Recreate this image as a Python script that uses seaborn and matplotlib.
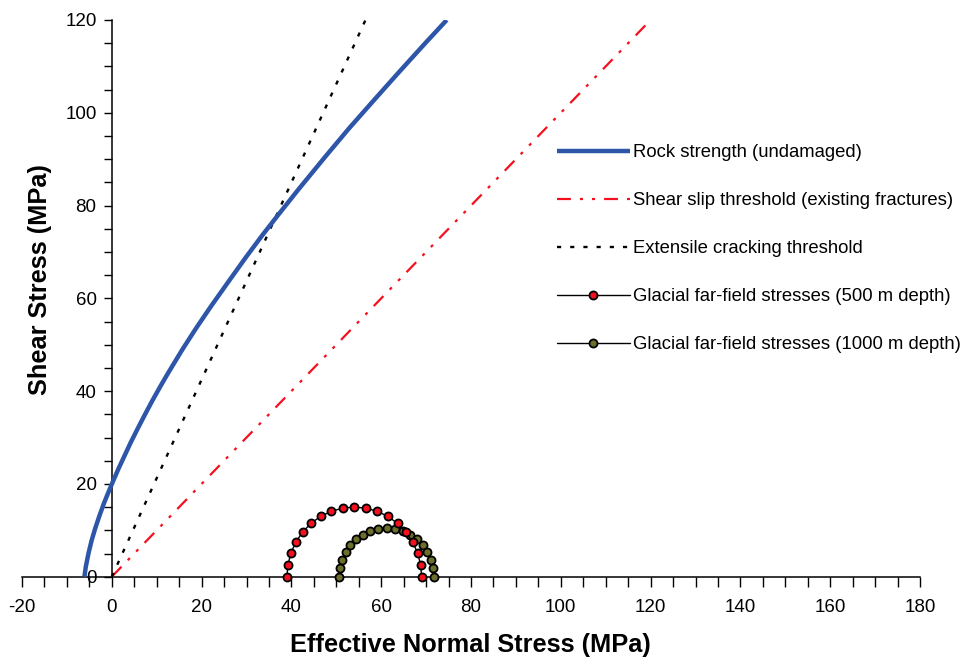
import numpy as np
import pandas as pd
import matplotlib
matplotlib.use("Agg")
import matplotlib.pyplot as plt
from matplotlib.ticker import MultipleLocator
import seaborn as sns

# --- data -------------------------------------------------------------
# Intact rock strength envelope (normal stress, shear stress), MPa
strength_sigma = [-6.1, -5.8, -5.2, -4.5, -3.7, -2.8, -1.8, -0.8, 0.2, 1.5,
                  2.8, 4.2, 5.7, 7.3, 9.0, 10.8, 12.6, 15.8, 18.8, 22.1,
                  26.2, 29.9, 33.6, 36.9, 41.5, 47.6, 52.8, 58.0, 63.9,
                  69.9, 74.6]
strength_tau = [0.0, 2.1, 5.0, 7.8, 10.4, 13.0, 15.7, 18.1, 20.4, 23.3,
                26.0, 28.9, 31.8, 34.8, 37.9, 41.0, 44.0, 49.1, 53.6, 58.3,
                63.9, 68.9, 73.7, 77.8, 83.4, 90.6, 96.6, 102.3, 108.7,
                115.1, 120.0]

# Shear slip threshold on existing fractures
slip_sigma = [0.0, 120.0]
slip_tau = [0.0, 120.0]

# Extensile cracking threshold
crack_sigma = [0.0, 56.5]
crack_tau = [0.0, 120.0]

# Principal effective stresses of the glacial far-field states, MPa
sigma3_500, sigma1_500 = 39.0, 69.0
sigma3_1000, sigma1_1000 = 50.7, 71.7
mohr_angles_deg = np.arange(0, 181, 10)

labels = [
    "Rock strength (undamaged)",
    "Shear slip threshold (existing fractures)",
    "Extensile cracking threshold",
    "Glacial far-field stresses (500 m depth)",
    "Glacial far-field stresses (1000 m depth)",
]

xticks = [-20, 0, 20, 40, 60, 80, 100, 120, 140, 160, 180]
yticks = [0, 20, 40, 60, 80, 100, 120]

BLUE = "#2D55A8"
RED = "#F4101E"
OLIVE = "#6C6E2C"


def mohr_circle(s3, s1, angles_deg):
    c = 0.5 * (s1 + s3)
    r = 0.5 * (s1 - s3)
    t = np.radians(angles_deg)
    return pd.DataFrame({"sigma": c - r * np.cos(t), "tau": r * np.sin(t)})


# --- figure -----------------------------------------------------------
sns.set_theme(style="ticks")
plt.rcParams["font.family"] = ["Liberation Sans", "DejaVu Sans"]
plt.rcParams["lines.scale_dashes"] = False
for key in ("text.color", "axes.labelcolor", "xtick.color", "ytick.color",
            "axes.edgecolor"):
    plt.rcParams[key] = "black"

W, H = 966, 659
fig = plt.figure(figsize=(W / 100, H / 100), dpi=100)
x0_px, x1_px, ytop_px, ybot_px = 22, 920, 20, 576.7
ax = fig.add_axes([x0_px / W, 1 - ybot_px / H,
                   (x1_px - x0_px) / W, (ybot_px - ytop_px) / H])

strength = pd.DataFrame({"sigma": strength_sigma, "tau": strength_tau})
slip = pd.DataFrame({"sigma": slip_sigma, "tau": slip_tau})
crack = pd.DataFrame({"sigma": crack_sigma, "tau": crack_tau})
c500 = mohr_circle(sigma3_500, sigma1_500, mohr_angles_deg)
c1000 = mohr_circle(sigma3_1000, sigma1_1000, mohr_angles_deg)

sns.lineplot(data=strength, x="sigma", y="tau", ax=ax, sort=False,
             estimator=None, color=BLUE, lw=3.2, zorder=4)
sns.lineplot(data=slip, x="sigma", y="tau", ax=ax, sort=False,
             estimator=None, color=RED, lw=1.6, zorder=3)
sns.lineplot(data=crack, x="sigma", y="tau", ax=ax, sort=False,
             estimator=None, color="black", lw=1.7, zorder=3)
sns.lineplot(data=c1000, x="sigma", y="tau", ax=ax, sort=False,
             estimator=None, color="black", lw=1.0, marker="o",
             markersize=5.8, markerfacecolor=OLIVE, markeredgecolor="black",
             markeredgewidth=1.3, clip_on=False, zorder=5)
sns.lineplot(data=c500, x="sigma", y="tau", ax=ax, sort=False,
             estimator=None, color="black", lw=1.0, marker="o",
             markersize=5.8, markerfacecolor=RED, markeredgecolor="black",
             markeredgewidth=1.3, clip_on=False, zorder=6)

l_strength, l_slip, l_crack, l_1000, l_500 = ax.get_lines()[:5]
l_slip.set_linestyle((0, (10, 6.5, 2.2, 6.5, 2.2, 6.5)))
l_crack.set_linestyle((0, (3, 6.5)))
for ln in (l_strength, l_slip, l_crack):
    ln.set_solid_capstyle("butt")
    ln.set_dash_capstyle("butt")
l_strength.set_solid_joinstyle("round")

# --- axes ---------------------------------------------------------------
ax.set_xlim(-20, 180)
ax.set_ylim(0, 120)
ax.spines["top"].set_visible(False)
ax.spines["right"].set_visible(False)
ax.spines["left"].set_position(("data", 0))
for side in ("left", "bottom"):
    ax.spines[side].set_color("black")
    ax.spines[side].set_linewidth(1.1)
    ax.spines[side].set_zorder(2)

ax.set_xticks(xticks)
ax.set_yticks(yticks)
ax.set_xticklabels([str(v) for v in xticks])
ax.set_yticklabels([str(v) for v in yticks])
ax.xaxis.set_minor_locator(MultipleLocator(5))
ax.yaxis.set_minor_locator(MultipleLocator(5))
ax.tick_params(axis="x", which="both", direction="out", length=7, width=1,
               color="black", labelsize=13.5, pad=9, labelcolor="black")
ax.tick_params(axis="y", which="both", direction="out", length=6, width=1,
               color="black", labelsize=13.5, pad=5, labelcolor="black")
ax.set_xlabel("")
ax.set_ylabel("")

fig.text(470 / W, 1 - 645 / H, "Effective Normal Stress (MPa)",
         ha="center", va="center", fontsize=18.3, fontweight="bold")
fig.text(40 / W, 1 - 280 / H, "Shear Stress (MPa)", rotation=90,
         ha="center", va="center", fontsize=18.3, fontweight="bold")

leg = ax.legend([l_strength, l_slip, l_crack, l_500, l_1000], labels,
                loc="upper left", bbox_to_anchor=(557 / W, 1 - 144 / H),
                bbox_transform=fig.transFigure, frameon=False, fontsize=13.3,
                handlelength=3.95, handletextpad=0.15, labelspacing=1.68,
                borderpad=0, borderaxespad=0, numpoints=1)

fig.savefig("out.png", dpi=100)
